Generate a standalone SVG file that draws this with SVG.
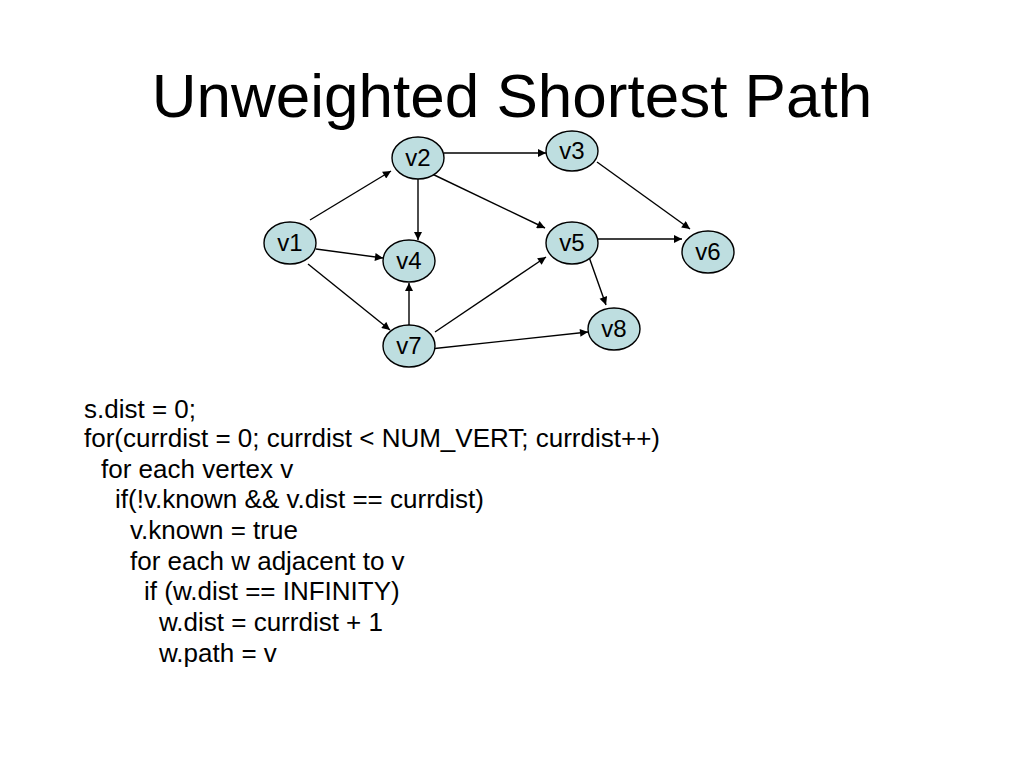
<svg xmlns="http://www.w3.org/2000/svg" width="1024" height="768" viewBox="0 0 1024 768">
<style>
text { font-family: "Liberation Sans", Arial, sans-serif; fill: #000; }
.title { font-size: 62px; text-anchor: middle; }
.lbl { font-size: 24px; text-anchor: middle; }
.code { font-size: 26px; }
.node ellipse { fill: #BEDEE0; stroke: #000; stroke-width: 1.4; }
.edges line { stroke: #000; stroke-width: 1.4; marker-end: url(#ah); }
</style>
<defs>
<marker id="ah" viewBox="0 0 10 10" refX="10" refY="5" markerWidth="9" markerHeight="8" markerUnits="userSpaceOnUse" orient="auto">
<path d="M0,0 L10,5 L0,10 Z" fill="#000"/>
</marker>
</defs>
<rect width="1024" height="768" fill="#fff"/>
<text class="title" x="512" y="117">Unweighted Shortest Path</text>
<g class="edges">
<line x1="310" y1="220" x2="391" y2="171"/>
<line x1="316" y1="249" x2="383" y2="258"/>
<line x1="308" y1="264" x2="390" y2="330"/>
<line x1="418" y1="179" x2="418" y2="240"/>
<line x1="444" y1="153" x2="546" y2="153"/>
<line x1="428" y1="172" x2="545" y2="228"/>
<line x1="597" y1="162" x2="690" y2="229"/>
<line x1="598" y1="239" x2="682" y2="239"/>
<line x1="589" y1="257" x2="606" y2="305"/>
<line x1="409" y1="325" x2="409" y2="283"/>
<line x1="435" y1="332" x2="546" y2="257"/>
<line x1="430" y1="349" x2="588" y2="332"/>
</g>
<g id="v1" class="node"><ellipse cx="290" cy="243" rx="26" ry="21"/><text class="lbl" x="290" y="251">v1</text></g>
<g id="v2" class="node"><ellipse cx="418" cy="158" rx="26" ry="21"/><text class="lbl" x="418" y="166">v2</text></g>
<g id="v3" class="node"><ellipse cx="572" cy="151" rx="26" ry="20"/><text class="lbl" x="572" y="159">v3</text></g>
<g id="v4" class="node"><ellipse cx="409" cy="261" rx="26" ry="21"/><text class="lbl" x="409" y="269">v4</text></g>
<g id="v5" class="node"><ellipse cx="572" cy="243" rx="26" ry="21"/><text class="lbl" x="572" y="251">v5</text></g>
<g id="v6" class="node"><ellipse cx="708" cy="252" rx="26" ry="21"/><text class="lbl" x="708" y="260">v6</text></g>
<g id="v7" class="node"><ellipse cx="409" cy="346" rx="26" ry="21"/><text class="lbl" x="409" y="354">v7</text></g>
<g id="v8" class="node"><ellipse cx="614" cy="329" rx="26" ry="21"/><text class="lbl" x="614" y="337">v8</text></g>
<g id="code">
<text class="code" x="84" y="418">s.dist = 0;</text>
<text class="code" x="84" y="447">for(currdist = 0; currdist &lt; NUM_VERT; currdist++)</text>
<text class="code" x="101" y="478">for each vertex v</text>
<text class="code" x="115" y="508">if(!v.known &amp;&amp; v.dist == currdist)</text>
<text class="code" x="130" y="539">v.known = true</text>
<text class="code" x="130" y="570">for each w adjacent to v</text>
<text class="code" x="144" y="600">if (w.dist == INFINITY)</text>
<text class="code" x="159" y="631">w.dist = currdist + 1</text>
<text class="code" x="159" y="662">w.path = v</text>
</g>
</svg>
